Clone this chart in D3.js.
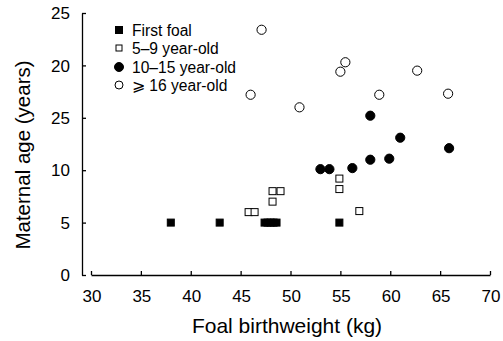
<!DOCTYPE html>
<html><head><meta charset="utf-8">
<script src="https://cdn.jsdelivr.net/npm/d3@7"></script>
<style>body{margin:0;background:#fff}svg{display:block}text{font-family:"Liberation Sans",Arial,sans-serif;fill:#000}</style>
</head><body><svg id="c" width="503" height="341"></svg>
<script>
const xTicks = [30,35,40,45,50,55,60,65,70];
const yTicks = [0,5,10,15,20,25];
const yTickLabels = ["0","5","10","25","20","25"];
const seriesNames = ["First foal","5\u20139 year-old","10\u201315 year-old","\u2a7e 16 year-old"];
const firstFoalX = [38.0,42.9,47.4,47.7,48.0,48.3,48.6,54.9];
const firstFoalY = [5,5,5,5,5,5,5,5];
const young5to9X = [45.8,46.4,48.2,48.2,49.0,54.9,54.9,56.9];
const young5to9Y = [6,6,7,8,8,8.2,9.2,6.1];
const mid10to15X = [53.0,53.9,56.2,58.0,59.9,61.0,65.9,58.0];
const mid10to15Y = [10.1,10.1,10.2,11.0,11.1,13.1,12.1,15.2];
const old16X = [47.1,46.0,50.9,55.5,55.0,58.9,62.7,65.8];
const old16Y = [23.4,17.2,16.0,20.3,19.4,17.2,19.5,17.3];

const svg = d3.select("#c");
const x = d3.scaleLinear().domain([30,70]).range([91,490]);
const y = d3.scaleLinear().domain([0,25]).range([275,13]);

// axes
const yAxis = svg.append("g").attr("transform","translate(82,0)")
  .call(d3.axisRight(y).tickValues(yTicks).tickSize(4).tickSizeOuter(0).tickFormat(()=>""));
const xAxis = svg.append("g").attr("transform","translate(0,275)")
  .call(d3.axisTop(x).tickValues(xTicks).tickSize(4).tickSizeOuter(0).tickFormat(()=>""));
[yAxis,xAxis].forEach(g=>{g.selectAll("path,line").attr("stroke","#000").attr("stroke-width",1.3);});

svg.append("g").selectAll("text").data(yTicks).join("text")
  .attr("x",70).attr("y",d=>y(d)).attr("dy","0.36em").attr("text-anchor","end")
  .attr("font-size",17).text((d,i)=>yTickLabels[i]);
svg.append("g").selectAll("text").data(xTicks).join("text")
  .attr("x",d=>x(d)+1).attr("y",302).attr("text-anchor","middle")
  .attr("font-size",17).text(d=>d);

svg.append("text").attr("x",287).attr("y",333).attr("text-anchor","middle")
  .attr("font-size",21).text("Foal birthweight (kg)");
svg.append("text").attr("transform","translate(30,155) rotate(-90)").attr("text-anchor","middle")
  .attr("font-size",20.5).text("Maternal age (years)");

const sq = 7, r = 4.6;
function squares(xs,ys,fill){
  svg.append("g").selectAll("rect").data(xs).join("rect")
    .attr("x",(d)=>x(d)-sq/2).attr("y",(d,i)=>y(ys[i])-sq/2)
    .attr("width",sq).attr("height",sq)
    .attr("fill",fill).attr("stroke","#000").attr("stroke-width",1);
}
function circles(xs,ys,fill){
  svg.append("g").selectAll("circle").data(xs).join("circle")
    .attr("cx",d=>x(d)).attr("cy",(d,i)=>y(ys[i])).attr("r",r)
    .attr("fill",fill).attr("stroke","#000").attr("stroke-width",1);
}
squares(firstFoalX,firstFoalY,"#000");
squares(young5to9X,young5to9Y,"#fff");
circles(mid10to15X,mid10to15Y,"#000");
circles(old16X,old16Y,"#fff");

// legend
const lg = svg.append("g");
const rowsY = [30,48,67,85];
seriesNames.forEach((n,i)=>{
  const cy = rowsY[i], cx = 119;
  if(i<2){
    const s = i===0?7:6;
    lg.append("rect").attr("x",cx-s/2).attr("y",cy-s/2).attr("width",s).attr("height",s)
      .attr("fill",i===0?"#000":"#fff").attr("stroke","#000").attr("stroke-width",1);
  } else {
    lg.append("circle").attr("cx",cx).attr("cy",cy).attr("r",i===2?4.5:4)
      .attr("fill",i===2?"#000":"#fff").attr("stroke","#000").attr("stroke-width",1);
  }
  lg.append("text").attr("x",132).attr("y",cy).attr("dy","0.36em").attr("font-size",15.6).text(n);
});
</script></body></html>
